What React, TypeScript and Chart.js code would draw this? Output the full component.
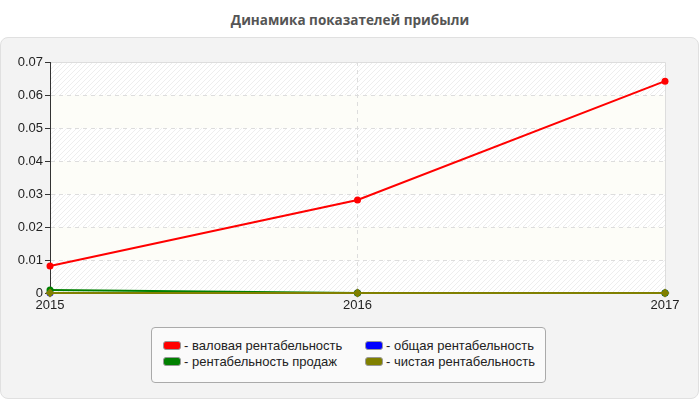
import React, { useRef, useEffect } from 'react';
import { Chart, registerables } from 'chart.js';

Chart.register(...registerables);

// Data
const years = ['2015', '2016', '2017'];
const grossMargin = [0.0082, 0.0282, 0.0642]; // валовая рентабельность
const totalMargin = [0, 0, 0]; // общая рентабельность
const salesMargin = [0.0009, 0, 0]; // рентабельность продаж
const netMargin = [0, 0, 0]; // чистая рентабельность

const seriesLabels = [
  '- валовая рентабельность',
  '- общая рентабельность',
  '- рентабельность продаж',
  '- чистая рентабельность'
];
const seriesColors = ['#ff0000', '#0000ff', '#008000', '#808000'];

const FONT = '"Liberation Sans", Arial, sans-serif';

// Hatched / pale alternating bands behind the plot
const bandsPlugin = {
  id: 'bands',
  beforeDraw(chart: any) {
    const { ctx, chartArea, scales } = chart;
    const y = scales.y;
    const pc = document.createElement('canvas');
    pc.width = 5;
    pc.height = 5;
    const p = pc.getContext('2d')!;
    p.fillStyle = '#ffffff';
    p.fillRect(0, 0, 5, 5);
    p.strokeStyle = '#eeeeee';
    p.lineWidth = 1;
    p.beginPath();
    p.moveTo(0, 5);
    p.lineTo(5, 0);
    p.moveTo(-1, 1);
    p.lineTo(1, -1);
    p.moveTo(4, 6);
    p.lineTo(6, 4);
    p.stroke();
    const pattern = ctx.createPattern(pc, 'repeat');
    ctx.save();
    for (let i = 0; i < 7; i++) {
      const top = y.getPixelForValue((i + 1) / 100);
      const bot = y.getPixelForValue(i / 100);
      ctx.fillStyle = i % 2 === 0 ? pattern : '#fdfdf8';
      ctx.fillRect(chartArea.left, top, chartArea.right - chartArea.left, bot - top);
    }
    // top and right frame
    ctx.strokeStyle = '#dddddd';
    ctx.lineWidth = 1;
    ctx.beginPath();
    ctx.moveTo(chartArea.left, Math.round(chartArea.top) + 0.5);
    ctx.lineTo(Math.round(chartArea.right) + 0.5, Math.round(chartArea.top) + 0.5);
    ctx.lineTo(Math.round(chartArea.right) + 0.5, chartArea.bottom);
    ctx.stroke();
    ctx.restore();
  }
};

const App: React.FC = () => {
  const canvasRef = useRef<HTMLCanvasElement>(null);
  const chartRef = useRef<Chart | null>(null);

  useEffect(() => {
    if (!canvasRef.current) return;
    if (chartRef.current) chartRef.current.destroy();
    const ctx = canvasRef.current.getContext('2d');
    if (!ctx) return;

    const values = [grossMargin, totalMargin, salesMargin, netMargin];
    const orders = [0, 3, 2, 1];

    chartRef.current = new Chart(ctx, {
      type: 'line',
      data: {
        labels: years,
        datasets: values.map((v, i) => ({
          label: seriesLabels[i],
          data: v,
          borderColor: seriesColors[i],
          backgroundColor: seriesColors[i],
          borderWidth: 2,
          pointRadius: i === 3 ? 4.5 : 3.5,
          pointStyle: i === 3 ? 'rectRot' : 'circle',
          pointBorderWidth: 0,
          tension: 0,
          fill: false,
          clip: false as any,
          order: orders[i]
        }))
      },
      options: {
        animation: false,
        responsive: false,
        maintainAspectRatio: false,
        layout: { padding: { left: 0, right: 35, top: 62, bottom: 87 } },
        plugins: {
          legend: { display: false },
          title: { display: false },
          tooltip: { enabled: false }
        },
        scales: {
          x: {
            offset: false,
            afterFit: (s: any) => { s.height = 20; },
            border: { display: true, color: '#333333', width: 1, dash: [4, 4] },
            grid: {
              color: (c: any) => (c.index === 1 ? '#dddddd' : 'rgba(0,0,0,0)'),
              drawTicks: false
            },
            ticks: {
              color: '#222222',
              font: { family: FONT, size: 13 },
              padding: 5,
              maxRotation: 0
            }
          },
          y: {
            min: 0,
            max: 0.07,
            afterFit: (s: any) => { s.width = 50; },
            border: { display: true, color: '#333333', width: 1, dash: [4, 4] },
            grid: {
              color: (c: any) => (c.index === 0 || c.index === 7 ? 'rgba(0,0,0,0)' : '#dddddd'),
              tickColor: '#333333',
              tickLength: 5,
              tickBorderDash: [1, 0]
            } as any,
            ticks: {
              stepSize: 0.01,
              color: '#222222',
              font: { family: FONT, size: 13 },
              padding: 2,
              callback: (v: any) => (Number(v) === 0 ? '0' : Number(v).toFixed(2))
            }
          }
        }
      },
      plugins: [bandsPlugin]
    });

    return () => {
      if (chartRef.current) {
        chartRef.current.destroy();
        chartRef.current = null;
      }
    };
  }, []);

  const legendItem = (i: number, left: number, top: number) => (
    <div
      key={i}
      style={{
        position: 'absolute',
        left,
        top,
        height: 16,
        display: 'flex',
        alignItems: 'center',
        whiteSpace: 'nowrap'
      }}
    >
      <span
        style={{
          display: 'inline-block',
          width: 16,
          height: 7,
          background: seriesColors[i],
          border: '1px solid #999',
          borderRadius: 3,
          marginRight: 3
        }}
      />
      <span>{seriesLabels[i]}</span>
    </div>
  );

  return (
    <div
      style={{
        position: 'fixed',
        left: 0,
        top: 0,
        width: 700,
        height: 400,
        background: '#ffffff',
        fontFamily: FONT,
        fontSize: 13,
        color: '#222'
      }}
    >
      <div
        style={{
          position: 'absolute',
          left: 0,
          top: 11,
          width: 700,
          textAlign: 'center',
          fontFamily: '"Open Sans", sans-serif',
          fontWeight: 'bold',
          fontSize: 13.5,
          lineHeight: '18px',
          color: '#555555'
        }}
      >
        Динамика показателей прибыли
      </div>
      <div
        style={{
          position: 'absolute',
          left: 0,
          top: 37,
          width: 697,
          height: 360,
          background: '#f3f3f3',
          border: '1px solid #e0e0e0',
          borderRadius: 8
        }}
      />
      <canvas
        ref={canvasRef}
        width={700}
        height={400}
        style={{ position: 'absolute', left: 0, top: 0, width: 700, height: 400 }}
      />
      <div
        style={{
          position: 'absolute',
          left: 151,
          top: 327,
          width: 393,
          height: 54,
          background: '#fafafa',
          border: '1px solid #aaaaaa',
          borderRadius: 4
        }}
      >
        {legendItem(0, 11, 9)}
        {legendItem(1, 213, 9)}
        {legendItem(2, 11, 25)}
        {legendItem(3, 213, 25)}
      </div>
    </div>
  );
};

export default App;
